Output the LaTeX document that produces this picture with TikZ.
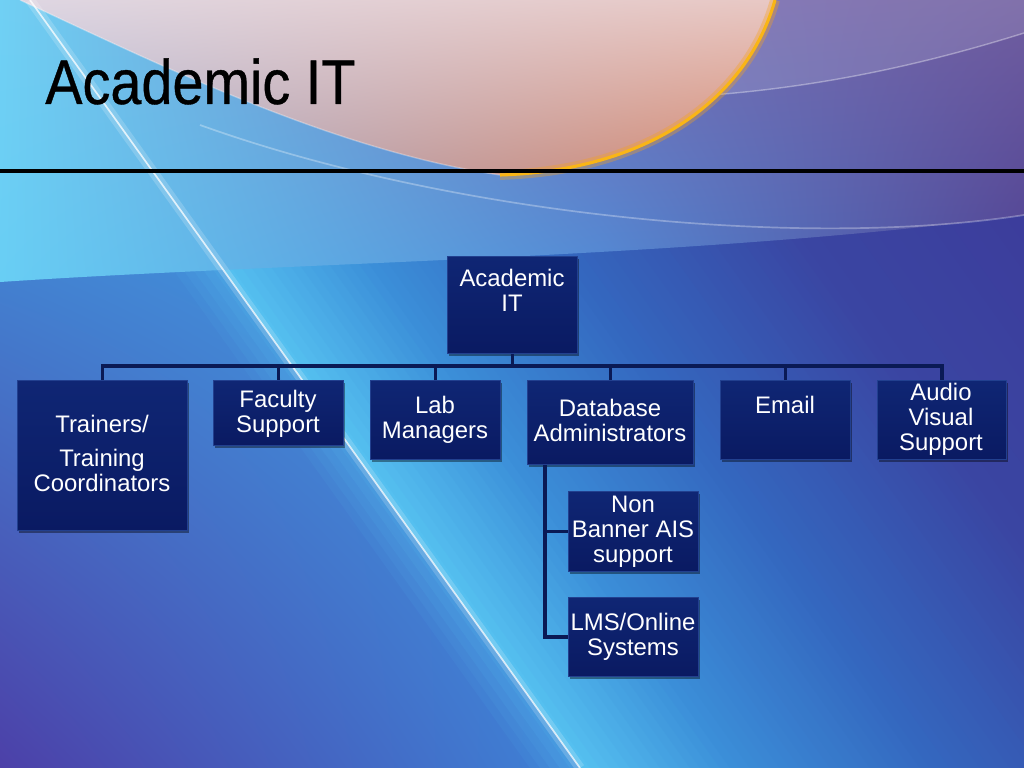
\documentclass[tikz,border=0pt]{standalone}
\usepackage{fontspec}
\setmainfont{Liberation Sans}
\newfontfamily\titlefont[FakeStretch=0.886,FakeBold=0.6]{Liberation Sans}
\usetikzlibrary{shadows,calc,shadings}
\definecolor{boxtop}{HTML}{0F2674}
\definecolor{boxbot}{HTML}{0A1A62}
\definecolor{boxedge}{HTML}{22408F}
\definecolor{connc}{HTML}{0A1A55}
\definecolor{cA}{HTML}{55C0F0}
\definecolor{cB}{HTML}{3B8ED8}
\definecolor{cC}{HTML}{3467BF}
\definecolor{cD}{HTML}{3A45A2}
\definecolor{cE}{HTML}{3F3494}
\definecolor{orng}{HTML}{F7A21B}
\definecolor{lUL}{RGB}{62,164,230}
\definecolor{lUR}{RGB}{66,172,234}
\definecolor{lLL}{RGB}{76,64,168}
\definecolor{lLR}{RGB}{62,130,214}
\definecolor{uUL}{RGB}{112,208,244}
\definecolor{uLL}{RGB}{104,206,244}
\definecolor{uUM}{RGB}{118,110,180}
\definecolor{uLM}{RGB}{80,140,215}
\definecolor{uUR}{RGB}{112,94,160}
\definecolor{uLR}{RGB}{78,66,148}
\definecolor{pUL}{RGB}{222,214,226}
\definecolor{pUR}{RGB}{232,200,196}
\definecolor{pLL}{RGB}{168,180,214}
\definecolor{pLR}{RGB}{216,136,108}
\begin{document}
\begin{tikzpicture}[x=0.025cm,y=-0.025cm,
  box/.style={draw=boxedge, line width=0.8pt, top color=boxtop, bottom color=boxbot,
    inner sep=0pt, anchor=north west,
    drop shadow={shadow xshift=1.0pt, shadow yshift=-1.5pt, opacity=0.4, fill=black}},
  lbl/.style={text=white, font=\fontsize{17}{17.8}\selectfont, inner sep=0pt, anchor=base},
  conn/.style={draw=connc, line width=2.4pt}]
\useasboundingbox (0,0) rectangle (1024,768);
% ---------- background ----------
\fill[cC] (0,0) rectangle (1024,768);
\foreach \i in {0,...,14}{\pgfmathsetmacro\p{\i/15*100}
  \fill[cB!\p!cA] ({30+\i*10},0) -- ({30+\i*10+11},0) -- ({580+\i*10+11},768) -- ({580+\i*10},768) -- cycle;}
\foreach \i in {0,...,19}{\pgfmathsetmacro\p{\i/20*100}
  \fill[cC!\p!cB] ({180+\i*10},0) -- ({180+\i*10+11},0) -- ({730+\i*10+11},768) -- ({730+\i*10},768) -- cycle;}
\foreach \i in {0,...,24}{\pgfmathsetmacro\p{\i/25*100}
  \fill[cD!\p!cC] ({380+\i*10},0) -- ({380+\i*10+11},0) -- ({930+\i*10+11},768) -- ({930+\i*10},768) -- cycle;}
\foreach \i in {0,...,24}{\pgfmathsetmacro\p{\i/25*100}
  \fill[cE!\p!cD] ({630+\i*20},0) -- ({630+\i*20+21},0) -- ({1180+\i*20+21},768) -- ({1180+\i*20},768) -- cycle;}
% left of streak
\shade[upper left=lUL, upper right=lUR, lower left=lLL, lower right=lLR]
  (0,0) -- (30,0) -- (580,768) -- (0,768) -- cycle;
\foreach \i in {0,...,5}{\pgfmathsetmacro\o{0.08*\i}
  \fill[cA, opacity=\o] ({30-60+\i*10},0) -- ({30-60+\i*10+10},0) -- ({580-60+\i*10+10},768) -- ({580-60+\i*10},768) -- cycle;}
% upper band
\begin{scope}
\clip (0,0) -- (1024,0) -- (1024,215) .. controls (700,258) and (300,262) .. (0,282) -- cycle;
\shade[upper left=uUL, upper right=uUM, lower left=uLL, lower right=uLM] (0,0) rectangle (600,290);
\shade[upper left=uUM, upper right=uUR, lower left=uLM, lower right=uLR] (600,0) rectangle (1024,290);
\end{scope}
\fill[white, opacity=0.12] (760,0) -- (1024,0) -- (1024,33) .. controls (900,72) and (800,88) .. (712,95) -- cycle;
\draw[white, opacity=0.35, line width=1pt] (712,95) .. controls (800,88) and (900,72) .. (1024,33);
\draw[white, opacity=0.3, line width=1.2pt] (200,125) .. controls (450,215) and (800,250) .. (1024,215);
% pale lens
\shade[upper left=pUL, upper right=pUR, lower left=pLL, lower right=pLR]
  (20,0) .. controls (150,60) and (330,150) .. (500,175) .. controls (660,170) and (750,90) .. (775,0) -- cycle;
\draw[orng, opacity=0.35, line width=7pt] (500,175) .. controls (660,170) and (750,90) .. (775,0);
\draw[orng!80!yellow, line width=2.2pt] (500,175) .. controls (660,170) and (750,90) .. (775,0);
\draw[white, opacity=0.3, line width=1pt] (20,0) .. controls (150,60) and (330,150) .. (500,175);
% white streak
\draw[white, opacity=0.18, line width=7pt] (30,0) -- (580,768);
\draw[white, opacity=0.75, line width=1.2pt] (30,0) -- (580,768);
% ---------- title ----------
\node[anchor=base west, inner sep=0pt, text=black, font=\titlefont\fontsize{44.8}{50}\selectfont] (title) at (45,104) {Academic IT};
\coordinate (ruleL) at (0,171);
\coordinate (ruleR) at (1024,171);
\draw[black, line width=3pt] (ruleL) -- (ruleR);
% ---------- boxes ----------
\coordinate (busY) at (0,366);
\coordinate (dbx) at (545,0);
\node[box, minimum width=130*0.025cm, minimum height=97*0.025cm] (root) at (447,256) {};
\node[box, minimum width=170*0.025cm, minimum height=150*0.025cm] (tr) at (17,380) {};
\node[box, minimum width=130*0.025cm, minimum height=65*0.025cm] (fs) at (213,380) {};
\node[box, minimum width=130*0.025cm, minimum height=79*0.025cm] (lab) at (370,380) {};
\node[box, minimum width=166*0.025cm, minimum height=84*0.025cm] (db) at (527,380) {};
\node[box, minimum width=130*0.025cm, minimum height=79*0.025cm] (em) at (720,380) {};
\node[box, minimum width=129*0.025cm, minimum height=79*0.025cm] (av) at (877,380) {};
\node[box, minimum width=130*0.025cm, minimum height=80*0.025cm] (nb) at (568,491) {};
\node[box, minimum width=130*0.025cm, minimum height=79*0.025cm] (lms) at (568,597) {};
% connectors
\draw[conn] (root.south) -- (root.south |- busY);
\draw[conn] (tr.north) -- (tr.north |- busY) -- (av.north |- busY) -- (av.north);
\foreach \n in {fs,lab,db,em}{\draw[conn] (\n.north) -- (\n.north |- busY);}
\draw[conn] (db.south -| dbx) |- (nb.west);
\draw[conn] (db.south -| dbx) |- (lms.west);
% ---------- labels ----------
\node[lbl] (rootT) at (512,286) {\parbox[t]{5cm}{\centering Academic\\IT}};
\node[lbl] (trT) at (102,432) {\parbox[t]{5cm}{\centering Trainers/\\[7pt]Training\\Coordinators}};
\node[lbl] (fsT) at (278,407) {\parbox[t]{5cm}{\centering Faculty\\Support}};
\node[lbl] (labT) at (435,413) {\parbox[t]{5cm}{\centering Lab\\Managers}};
\node[lbl] (dbT) at (610,416) {\parbox[t]{5cm}{\centering Database\\Administrators}};
\node[lbl] (emT) at (785,413) {\parbox[t]{5cm}{\centering Email}};
\node[lbl] (avT) at (941,400) {\parbox[t]{5cm}{\centering Audio\\Visual\\Support}};
\node[lbl] (nbT) at (633,512) {\parbox[t]{5cm}{\centering Non\\Banner AIS\\support}};
\node[lbl] (lmsT) at (633,630) {\parbox[t]{5cm}{\centering LMS/Online\\Systems}};
\end{tikzpicture}
\end{document}
